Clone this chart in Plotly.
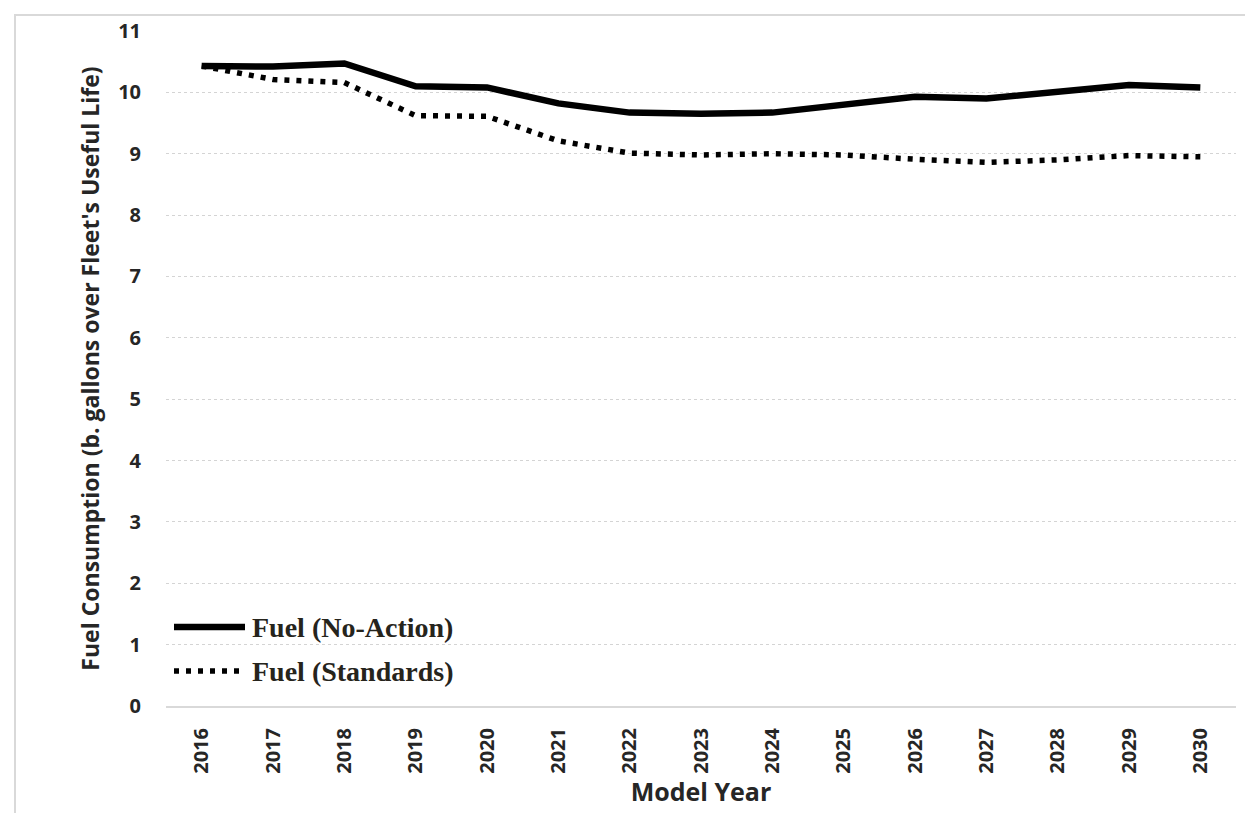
import plotly.graph_objects as go

years = ["2016", "2017", "2018", "2019", "2020", "2021", "2022", "2023",
         "2024", "2025", "2026", "2027", "2028", "2029", "2030"]
fuel_no_action = [10.43, 10.42, 10.47, 10.10, 10.08, 9.82, 9.67, 9.65,
                  9.67, 9.79, 9.93, 9.90, 10.00, 10.12, 10.08]
fuel_standards = [10.43, 10.21, 10.16, 9.62, 9.61, 9.21, 9.01, 8.98,
                  9.00, 8.98, 8.91, 8.86, 8.90, 8.97, 8.95]
series_names = ["Fuel (No-Action)", "Fuel (Standards)"]
y_ticks = list(range(0, 12))

W, H = 1253, 813
ML, MR, MT, MB = 158, 25, 23, 115
PW = W - ML - MR
PH = H - MT - MB

def px_x(px):
    return (px - ML) / PW

def px_y(py):
    return (H - MB - py) / PH

TICK_FONT = dict(family="Open Sans", size=20, color="#262626")
TITLE_FONT = dict(family="Open Sans", size=25, color="#262626")

fig = go.Figure()
fig.add_trace(go.Scatter(
    x=years, y=fuel_no_action, mode="lines", name=series_names[0],
    line=dict(color="#000000", width=6.5), showlegend=False,
))
fig.add_trace(go.Scatter(
    x=years, y=fuel_standards, mode="lines", name=series_names[1],
    line=dict(color="#000000", width=5.5, dash="5px,7px"), showlegend=False,
))

# Custom legend (line samples + labels)
leg_rows = [(619, dict(color="#000000", width=6.5)),
            (663, dict(color="#000000", width=5.5, dash="5px,7px"))]
for (ypx, lstyle), name in zip(leg_rows, series_names):
    fig.add_shape(type="line", xref="paper", yref="paper",
                  x0=px_x(166), x1=px_x(237), y0=px_y(ypx), y1=px_y(ypx),
                  line=lstyle)
    fig.add_annotation(xref="paper", yref="paper", x=px_x(242), y=px_y(ypx),
                       xanchor="left", yanchor="middle", showarrow=False,
                       text="<b>" + name + "</b>",
                       font=dict(family="Liberation Serif", size=28, color="#26241c"))

# Outer chart border
fig.add_shape(type="rect", xref="paper", yref="paper",
              x0=px_x(7), x1=px_x(1300), y0=px_y(900), y1=px_y(7),
              line=dict(color="#d9d9d9", width=2), layer="below")

fig.update_layout(
    width=W, height=H,
    margin=dict(l=ML, r=MR, t=MT, b=MB, autoexpand=False),
    paper_bgcolor="#ffffff", plot_bgcolor="#ffffff",
    showlegend=False,
    font=dict(family="Open Sans", color="#262626"),
)
fig.update_xaxes(
    type="category", range=[-0.5, 14.5],
    tickvals=years, ticktext=["<b>%s</b>" % y for y in years],
    showgrid=False, showline=True, linecolor="#d9d9d9", linewidth=2,
    ticks="", tickangle=-90, ticklabelstandoff=12,
    tickfont=TICK_FONT,
    title=dict(text="<b>Model Year</b>", font=TITLE_FONT, standoff=10),
)
fig.update_yaxes(
    range=[0, 11], tickvals=y_ticks, ticktext=["<b>%d</b>" % v for v in y_ticks],
    showgrid=True, gridcolor="#d4d4d4", gridwidth=1, griddash="dot",
    zeroline=False, showline=False, ticks="", ticklabelstandoff=24,
    tickfont=TICK_FONT,
    title=dict(text="<b>Fuel Consumption (b. gallons over Fleet's Useful Life)</b>",
               font=dict(family="Open Sans", size=23, color="#262626"), standoff=12),
)

fig.write_html("out.html")
